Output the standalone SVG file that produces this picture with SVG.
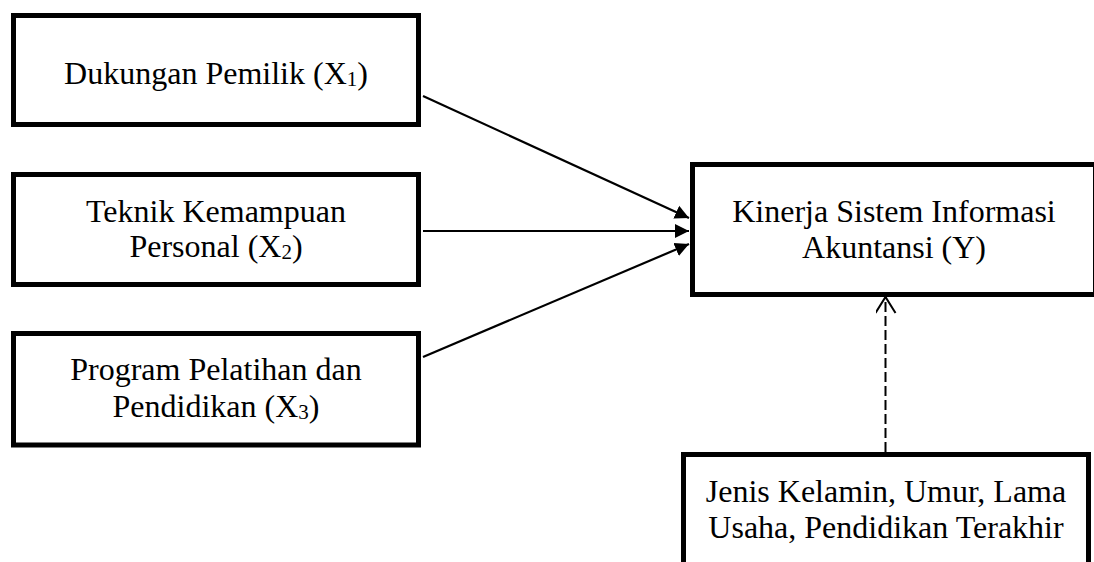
<svg xmlns="http://www.w3.org/2000/svg" width="1094" height="562" viewBox="0 0 1094 562">
<style>
.box{fill:#fff;stroke:#000;stroke-width:5}
.t{font-family:"Liberation Serif","Times New Roman",serif;font-size:32px;fill:#000;text-anchor:middle}
.sub{font-size:21px}
.c{stroke:#000;stroke-width:2.2;fill:none}
.d{stroke:#000;stroke-width:2;fill:none;stroke-dasharray:10 4}
</style>
<defs>
<marker id="ah" markerUnits="userSpaceOnUse" markerWidth="16" markerHeight="16" viewBox="0 0 16 16" refX="14" refY="8" orient="auto">
<path d="M0,1 L14,8 L0,15 Z" fill="#000"/>
</marker>
<marker id="oh" markerUnits="userSpaceOnUse" markerWidth="20" markerHeight="24" viewBox="0 0 20 24" refX="17" refY="10" orient="auto">
<path d="M1,0 L17,10 L1,20" fill="none" stroke="#000" stroke-width="2"/>
</marker>
</defs>
<rect width="1094" height="562" fill="#fff"/>
<g id="connectors">
<line class="c" x1="423" y1="96" x2="689" y2="218" marker-end="url(#ah)"/>
<line class="c" x1="423" y1="231" x2="689" y2="231" marker-end="url(#ah)"/>
<line class="c" x1="423" y1="357" x2="689" y2="244" marker-end="url(#ah)"/>
<line class="d" x1="885.5" y1="452" x2="885.5" y2="297" marker-end="url(#oh)"/>
</g>
<g id="x1">
<rect class="box" x="13.5" y="15.5" width="405" height="109"/>
<text class="t" x="216" y="84">Dukungan Pemilik (X<tspan class="sub" dy="2">1</tspan><tspan dy="-2">)</tspan></text>
</g>
<g id="x2">
<rect class="box" x="13.5" y="174.5" width="405" height="110"/>
<text class="t" x="216" y="222">Teknik Kemampuan</text>
<text class="t" x="216" y="257">Personal (X<tspan class="sub" dy="2">2</tspan><tspan dy="-2">)</tspan></text>
</g>
<g id="x3">
<rect class="box" x="13.5" y="333.5" width="405" height="111.5"/>
<text class="t" x="216" y="380">Program Pelatihan dan</text>
<text class="t" x="216" y="417">Pendidikan (X<tspan class="sub" dy="2">3</tspan><tspan dy="-2">)</tspan></text>
</g>
<g id="y">
<rect class="box" x="692.5" y="164.5" width="403" height="130"/>
<text class="t" x="894" y="222">Kinerja Sistem Informasi</text>
<text class="t" x="894" y="258">Akuntansi (Y)</text>
</g>
<g id="control">
<rect class="box" x="683.5" y="454.5" width="405" height="120"/>
<text class="t" x="886" y="502">Jenis Kelamin, Umur, Lama</text>
<text class="t" x="886" y="538">Usaha, Pendidikan Terakhir</text>
</g>
</svg>
